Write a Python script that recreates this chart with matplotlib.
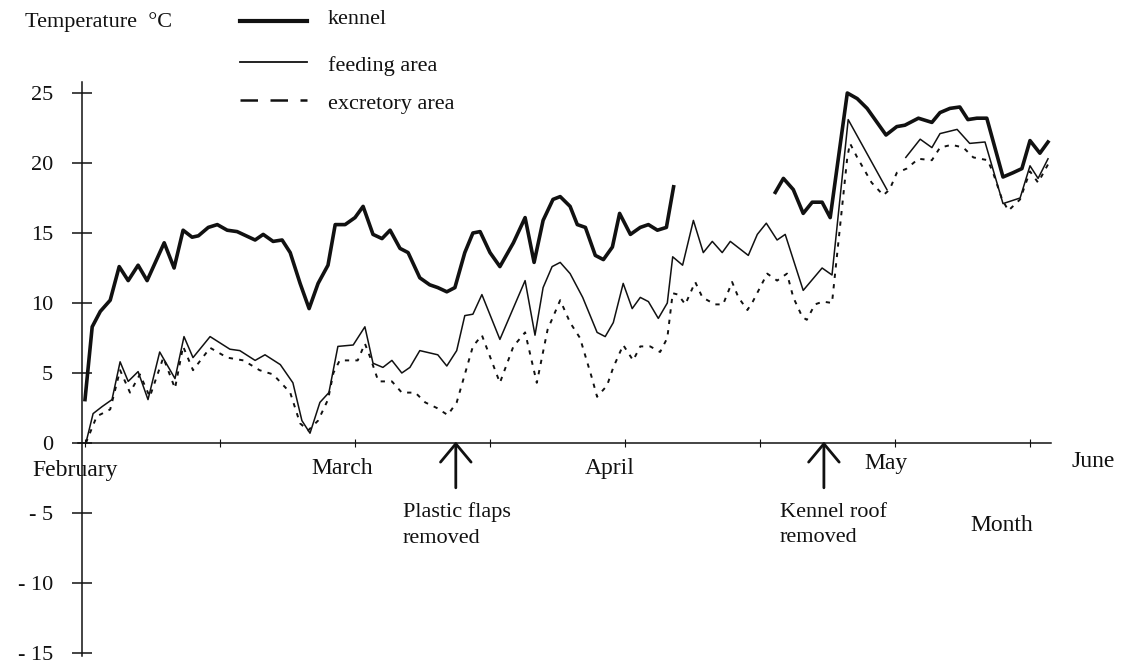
import numpy as np
import matplotlib
matplotlib.use("Agg")
import matplotlib.pyplot as plt
from matplotlib.lines import Line2D

plt.rcParams["font.family"] = ["Liberation Serif", "DejaVu Serif"]

# x = days since 1 February (half-month grid of 15 days), y = temperature in deg C
kennel_days = [0, 0.8, 1.7, 2.8, 3.8, 4.8, 5.9, 6.9, 8.8, 9.9, 10.9, 11.9, 12.6, 13.7,
               14.7, 15.8, 16.9, 18.9, 19.8, 20.9, 21.9, 22.8, 23.9, 24.9, 25.9, 27.0,
               27.8, 28.9, 30.0, 30.9, 32.0, 33.0, 33.9, 35.0, 35.9, 37.2, 38.3, 39.2,
               40.2, 41.1, 42.2, 43.1, 43.9, 45.0, 46.1, 47.6, 48.9, 49.9, 50.9, 52.0,
               52.8, 53.9, 54.7, 55.6, 56.7, 57.6, 58.6, 59.4, 60.6, 61.7, 62.6, 63.6,
               64.6, 65.4,
               70.0,
               76.7, 77.6, 78.7, 79.8, 80.8, 81.9, 82.8, 84.7, 85.8, 86.9, 89.0, 90.2,
               91.1, 92.6, 94.1, 95.0, 96.1, 97.2, 98.1, 99.1, 100.2, 102.0, 103.1,
               104.1, 105.0, 106.1, 107.0]
kennel_temp = [3.1, 8.3, 9.4, 10.2, 12.6, 11.6, 12.7, 11.6, 14.3, 12.5, 15.2, 14.7, 14.8, 15.4,
               15.6, 15.2, 15.1, 14.5, 14.9, 14.4, 14.5, 13.6, 11.4, 9.6, 11.4, 12.7,
               15.6, 15.6, 16.1, 16.9, 14.9, 14.6, 15.2, 13.9, 13.6, 11.8, 11.3, 11.1,
               10.8, 11.1, 13.6, 15.0, 15.1, 13.6, 12.6, 14.3, 16.1, 12.9, 15.9, 17.4,
               17.6, 16.9, 15.6, 15.4, 13.4, 13.1, 14.0, 16.4, 14.9, 15.4, 15.6, 15.2,
               15.4, 18.3,
               np.nan,
               17.9, 18.9, 18.1, 16.4, 17.2, 17.2, 16.1, 25.0, 24.6, 23.9, 22.0, 22.6,
               22.7, 23.2, 22.9, 23.6, 23.9, 24.0, 23.1, 23.2, 23.2, 19.0, 19.3,
               19.6, 21.6, 20.7, 21.5]

feeding_days = [0.1, 0.9, 1.9, 3.0, 3.9, 4.8, 5.9, 7.0, 8.3, 10.0, 11.0, 12.0, 13.9, 16.1,
                17.2, 18.9, 20.0, 21.7, 23.1, 24.1, 25.0, 26.1, 27.1, 28.1, 29.8, 31.1,
                32.0, 33.1, 34.1, 35.2, 36.1, 37.2, 39.2, 40.2, 41.3, 42.2, 43.1, 44.1,
                46.1, 48.9, 50.0, 50.9, 51.9, 52.8, 53.9, 55.3, 56.9, 57.8, 58.7, 59.8,
                60.8, 61.7, 62.6, 63.7, 64.7, 65.3, 66.4, 67.6, 68.7, 69.7, 70.8, 71.7,
                73.7, 74.7, 75.7, 76.9, 77.8, 79.8, 81.9, 83.0, 84.8, 89.1,
                90.0,
                91.2, 92.8, 94.1, 95.0, 96.9, 98.3, 100.0, 102.0, 103.9, 105.0, 105.9, 107.0]
feeding_temp = [0.0, 2.1, 2.6, 3.1, 5.8, 4.4, 5.1, 3.1, 6.5, 4.6, 7.6, 6.1, 7.6, 6.7,
                6.6, 5.9, 6.3, 5.6, 4.3, 1.6, 0.7, 2.9, 3.6, 6.9, 7.0, 8.3,
                5.7, 5.4, 5.9, 5.0, 5.4, 6.6, 6.3, 5.5, 6.6, 9.1, 9.2, 10.6,
                7.4, 11.6, 7.7, 11.1, 12.6, 12.9, 12.1, 10.4, 7.9, 7.6, 8.6, 11.4,
                9.6, 10.4, 10.1, 8.9, 10.0, 13.3, 12.7, 15.9, 13.6, 14.4, 13.6, 14.4,
                13.4, 14.9, 15.7, 14.5, 14.9, 10.9, 12.5, 12.0, 23.1, 18.1,
                np.nan,
                20.4, 21.7, 21.1, 22.1, 22.4, 21.4, 21.5, 17.1, 17.5, 19.8, 18.9, 20.3]

excretory_days = [0.1, 1.3, 2.8, 3.9, 5.0, 6.1, 7.2, 8.7, 10.0, 10.9, 12.0, 13.9, 15.8, 17.6,
                  19.4, 20.9, 22.8, 23.9, 24.8, 25.9, 27.0, 27.6, 28.3, 30.3, 31.1, 31.7,
                  32.6, 34.1, 35.2, 36.7, 37.8, 39.1, 40.3, 41.3, 42.2, 43.1, 44.1, 46.1,
                  47.6, 48.9, 50.2, 51.4, 52.8, 53.9, 55.0, 56.3, 56.9, 58.0, 58.7, 59.8,
                  60.9, 61.7, 62.8, 63.9, 64.7, 65.3, 65.9, 66.7, 67.8, 68.6, 70.0, 70.9,
                  71.9, 72.6, 73.6, 74.2, 75.0, 75.8, 76.9, 78.0, 78.7, 79.7, 80.2, 81.1,
                  82.0, 83.0, 84.7, 85.0, 85.8, 87.4, 88.7, 89.4, 90.2, 91.3, 92.6, 94.1,
                  95.0, 96.3, 97.6, 98.7, 100.3, 100.9, 101.9, 102.6, 103.9, 105.0, 105.9,
                  107.0]
excretory_temp = [0.0, 1.9, 2.4, 5.2, 3.6, 4.9, 3.3, 6.1, 3.9, 6.9, 5.2, 6.8, 6.1, 5.9,
                  5.2, 4.9, 3.6, 1.4, 0.9, 1.6, 3.1, 5.0, 5.9, 5.9, 7.1, 6.1,
                  4.4, 4.4, 3.6, 3.6, 2.9, 2.5, 2.0, 2.9, 4.9, 6.9, 7.7, 4.3,
                  6.9, 7.9, 4.3, 8.1, 10.2, 8.6, 7.5, 4.7, 3.3, 4.1, 5.4, 7.0,
                  5.9, 6.9, 6.9, 6.5, 7.5, 10.7, 10.6, 9.9, 11.5, 10.4, 9.9, 9.9,
                  11.5, 10.4, 9.5, 10.1, 11.1, 12.1, 11.6, 12.1, 10.4, 9.0, 8.8, 9.9,
                  10.1, 10.0, 20.4, 21.4, 20.4, 18.6, 17.7, 18.1, 19.3, 19.6, 20.3, 20.2,
                  21.1, 21.3, 21.1, 20.4, 20.2, 19.3, 17.4, 16.6, 17.4, 19.4, 18.6,
                  19.9]

month_names = ["February", "March", "April", "May", "June"]
month_label_pos = [(-1.1, -1.95), (28.6, -1.8), (58.3, -1.8), (89.0, -1.45), (112.0, -1.35)]
half_month_ticks = [0, 15, 30, 45, 60, 75, 90, 105]
temp_ticks = [-15, -10, -5, 0, 5, 10, 15, 20, 25]
temp_tick_labels = ["- 15", "- 10", "- 5", "0", "5", "10", "15", "20", "25"]

events = ["Plastic flaps\nremoved", "Kennel roof\nremoved"]
event_days = [41.2, 82.1]
event_text_x = [35.3, 77.2]

W, H = 1121, 671
X0, Y0, XS, YS = 85, 443, 9.0, 14.0   # pixel of origin and pixels per unit

fig = plt.figure(figsize=(W / 100, H / 100), dpi=100)
fig.patch.set_facecolor("white")
ax = fig.add_axes([0, 0, 1, 1])
ax.set_xlim(-X0 / XS, (W - X0) / XS)
ax.set_ylim(-(H - Y0) / YS, Y0 / YS)

ink = "#111111"

ax.plot(kennel_days, kennel_temp, color=ink, lw=2.6, solid_joinstyle="round")
ax.plot(feeding_days, feeding_temp, color=ink, lw=1.1)
ax.plot(excretory_days, excretory_temp, color=ink, lw=1.4, dashes=(2.2, 3.2))

# axes drawn as crossing lines through the origin
for side in ("top", "right"):
    ax.spines[side].set_visible(False)
ax.spines["left"].set_position(("data", -0.33))
ax.spines["left"].set_bounds(-15.2, 25.8)
ax.spines["bottom"].set_position(("data", 0))
ax.spines["bottom"].set_bounds(-0.8, 107.3)
for side in ("left", "bottom"):
    ax.spines[side].set_linewidth(1.1)
    ax.spines[side].set_color(ink)

ax.set_yticks(temp_ticks)
ax.set_yticklabels(temp_tick_labels)
ax.tick_params(axis="y", direction="inout", length=14, width=1.1, pad=14,
               labelsize=16, colors=ink)
ax.set_xticks(half_month_ticks)
ax.tick_params(axis="x", direction="inout", length=6, width=0.8, labelbottom=False,
               colors=ink)

for name, (mx, my) in zip(month_names, month_label_pos):
    ax.text(mx, my, name, ha="center", va="center", fontsize=17, color=ink)
ax.text(101.9, -5.9, "Month", ha="center", va="center", fontsize=17, color=ink)

# events marked with arrows under the axis
for label, day, tx in zip(events, event_days, event_text_x):
    ax.annotate("", xy=(day, 0.1), xytext=(day, -3.2),
                arrowprops=dict(arrowstyle="->,head_length=0.6,head_width=0.5",
                                mutation_scale=22, lw=2.0, color=ink,
                                shrinkA=0, shrinkB=0))
    ax.text(tx, -5.85, label, ha="left", va="center", fontsize=16,
            linespacing=1.45, color=ink)


def fx(px):
    return px / W


def fy(py):
    return 1 - py / H


fig.text(fx(25), fy(22), "Temperature  °C", ha="left", va="center", fontsize=16, color=ink)

legend_rows = [("kennel", 21, dict(lw=3.0)),
               ("feeding area", 62, dict(lw=1.3)),
               ("excretory area", 100, dict(lw=1.8, dashes=(7, 5)))]
for label, py, style in legend_rows:
    fig.add_artist(Line2D([fx(240), fx(307)], [fy(py), fy(py)], color=ink, **style))
    fig.text(fx(328), fy(py + 4 if label != "kennel" else py - 1), label,
             ha="left", va="center", fontsize=16, color=ink)

ax.set_facecolor("white")
fig.savefig("out.png", dpi=100)
